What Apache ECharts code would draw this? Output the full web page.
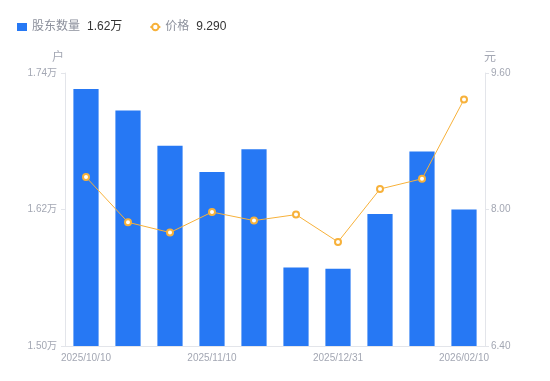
<!DOCTYPE html>
<html><head><meta charset="utf-8">
<script src="https://cdn.jsdelivr.net/npm/echarts@6/dist/echarts.min.js"></script>
<style>html,body{margin:0;padding:0;background:#fff}#c{width:550px;height:381px}</style>
</head><body><div id="c"></div>
<script>
var categories = ['2025/10/10','2025/10/20','2025/10/31','2025/11/10','2025/11/20','2025/12/10','2025/12/31','2026/01/09','2026/01/20','2026/02/10'];
var holders = [17260, 17070, 16760, 16530, 16730, 15690, 15680, 16160, 16710, 16200];
var prices = [8.38, 7.85, 7.73, 7.97, 7.87, 7.94, 7.62, 8.24, 8.36, 9.29];
var legendValues = {'股东数量': '1.62万', '价格': '9.290'};

var FONT = 'Liberation Sans, Arial, Noto Sans CJK SC, sans-serif';
var labelColor = '#a3a7b3';
var lineColor = '#e3e5ea';
var chart = echarts.init(document.getElementById('c'), null, {renderer:'canvas'});
chart.setOption({
  animation: false,
  textStyle: {fontFamily: FONT},
  legend: {
    left: 12, top: 16, itemWidth: 10, itemHeight: 8, itemGap: 27,
    data: [{name:'股东数量', icon:'rect'}, {name:'价格'}],
    lineStyle: {width: 2},
    formatter: function(n){ return '{a|' + n + '}{b|' + legendValues[n] + '}'; },
    textStyle: {
      fontFamily: FONT,
      rich: {
        a: {fontSize: 12, color: '#8c909c', fontFamily: FONT},
        b: {fontSize: 12, color: '#333', padding: [0,0,0,7], fontFamily: FONT}
      }
    }
  },
  grid: {left: 65, right: 65, top: 73, bottom: 35},
  xAxis: {
    type: 'category', data: categories,
    axisLine: {lineStyle: {color: lineColor}},
    axisTick: {show: false},
    axisLabel: {interval: 2, color: labelColor, fontSize: 10, margin: 7, fontFamily: FONT}
  },
  yAxis: [{
    type: 'value', min: 15000, max: 17400, interval: 1200,
    name: '户', nameGap: 9,
    nameTextStyle: {color: labelColor, fontSize: 12, align: 'center', padding: [0,14,0,0], fontFamily: FONT},
    axisLine: {show: true, lineStyle: {color: lineColor}},
    axisTick: {show: true, length: 4, lineStyle: {color: lineColor}},
    splitLine: {show: false},
    axisLabel: {color: labelColor, fontSize: 10, margin: 8, fontFamily: FONT,
      formatter: function(v){ return (v/10000).toFixed(2) + '万'; }}
  },{
    type: 'value', min: 6.4, max: 9.6, interval: 1.6,
    name: '元', nameGap: 9,
    nameTextStyle: {color: labelColor, fontSize: 12, align: 'center', padding: [0,0,0,10], fontFamily: FONT},
    axisLine: {show: true, lineStyle: {color: lineColor}},
    axisTick: {show: true, length: 4, lineStyle: {color: lineColor}},
    splitLine: {show: false},
    axisLabel: {color: labelColor, fontSize: 10, margin: 6, fontFamily: FONT,
      formatter: function(v){ return v.toFixed(2); }}
  }],
  series: [{
    name: '股东数量', type: 'bar', data: holders, barWidth: '60%',
    itemStyle: {color: '#2678f4'}
  },{
    name: '价格', type: 'line', yAxisIndex: 1, data: prices,
    symbol: 'emptyCircle', symbolSize: 6,
    lineStyle: {color: '#f7b13a', width: 1},
    itemStyle: {color: '#f7b13a', borderWidth: 1.5}
  }]
});
</script></body></html>
